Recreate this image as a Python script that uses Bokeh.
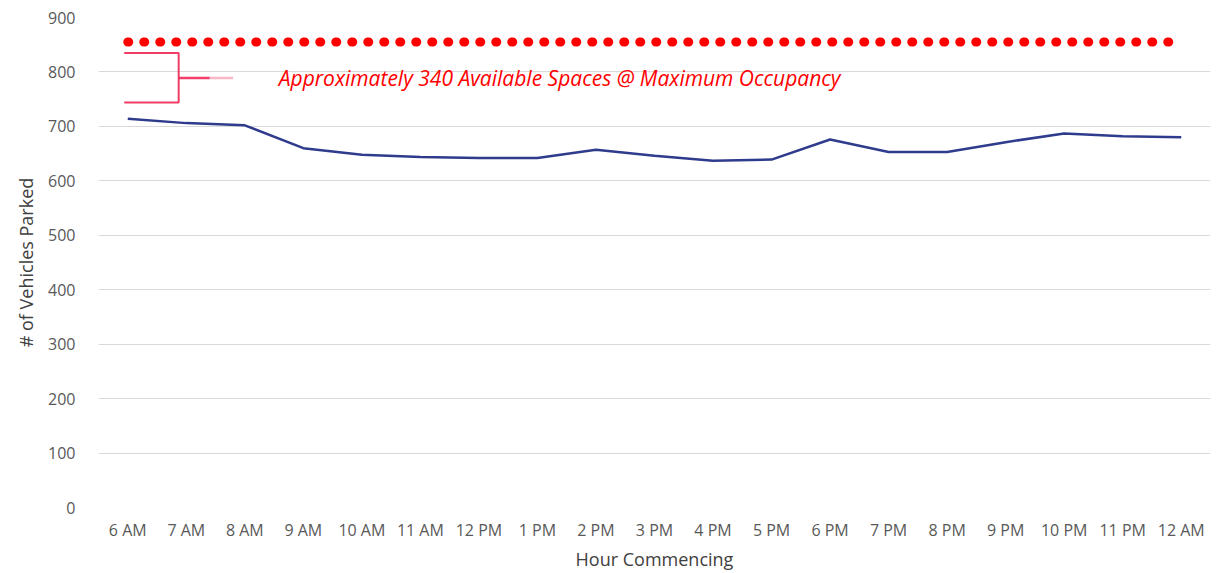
from bokeh.plotting import figure
from bokeh.models import ColumnDataSource, Label, Range1d, FactorRange, SingleIntervalTicker
from bokeh.embed import file_html
from bokeh.resources import INLINE

hours = ["6 AM", "7 AM", "8 AM", "9 AM", "10 AM", "11 AM", "12 PM", "1 PM", "2 PM",
         "3 PM", "4 PM", "5 PM", "6 PM", "7 PM", "8 PM", "9 PM", "10 PM", "11 PM", "12 AM"]
parked = [714, 706, 702, 660, 648, 644, 642, 642, 657, 646, 637, 639, 676, 653, 653,
          671, 687, 682, 680]
capacity = [855] * len(hours)

# bracket annotation (synthetic categorical x, data y)
bracket_x = [0.44, 1.37, 1.37, 0.44]
bracket_y = [835, 835, 744, 744]
arrow_x = [1.37, 1.45, 1.9]
arrow_y = [789, 789, 789]
arrow_fade_x = [1.9, 2.3]
arrow_fade_y = [789, 789]

FONT = "Open Sans"
TXT = "#595959"

p = figure(x_range=FactorRange(factors=hours, range_padding=0), y_range=Range1d(0, 900),
           width=1217, height=573, output_backend="svg", toolbar_location=None,
           min_border_left=98, min_border_right=7, min_border_top=17, min_border_bottom=65)
p.outline_line_color = None
p.background_fill_color = "white"
p.border_fill_color = "white"

src = ColumnDataSource(dict(hour=hours, parked=parked, capacity=capacity))

p.line("hour", "capacity", source=src, line_color="#ff0000", line_width=9,
       line_dash="1 15", line_cap="round")
p.line("hour", "parked", source=src, line_color="#2f3b8c", line_width=2.5)

p.line(bracket_x, bracket_y, line_color="#f03c64", line_width=2)
p.line(arrow_x, arrow_y, line_color="#ee2050", line_width=2.5, line_alpha=0.85)
p.line(arrow_fade_x, arrow_fade_y, line_color="#f06080", line_width=2.5, line_alpha=0.45)

p.add_layout(Label(x=3.08, y=788, text="Approximately 340 Available Spaces @ Maximum Occupancy",
                   text_color="#ff0000", text_font=FONT, text_font_style="italic",
                   text_font_size="21px", text_baseline="middle"))

p.xgrid.grid_line_color = None
p.ygrid.grid_line_color = "#d9d9d9"
p.ygrid.grid_line_width = 1
p.yaxis.ticker = SingleIntervalTicker(interval=100)

for ax in (p.xaxis[0], p.yaxis[0]):
    ax.axis_line_color = None
    ax.major_tick_line_color = None
    ax.minor_tick_line_color = None
    ax.major_label_text_font = FONT
    ax.major_label_text_font_size = "16px"
    ax.major_label_text_color = TXT
    ax.axis_label_text_font = FONT
    ax.axis_label_text_font_size = "18px"
    ax.axis_label_text_font_style = "normal"
    ax.axis_label_text_color = "#404040"

p.xaxis.axis_label = "Hour Commencing"
p.xaxis.major_label_standoff = 5
p.xaxis.axis_label_standoff = 3
p.yaxis.axis_label = "# of Vehicles Parked"
p.yaxis.major_label_standoff = 17
p.yaxis.axis_label_standoff = 7

open("out.html", "w").write(file_html(p, INLINE))
